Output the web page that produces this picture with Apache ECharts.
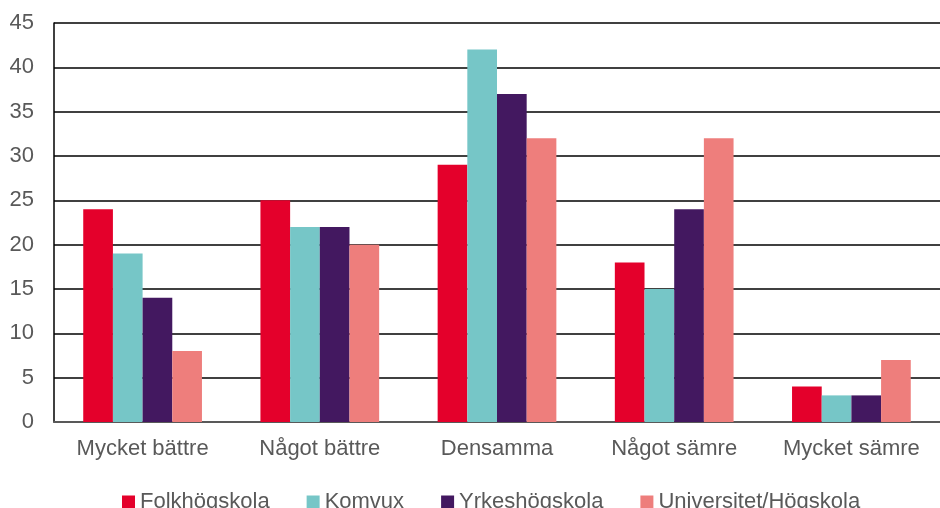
<!DOCTYPE html>
<html><head><meta charset="utf-8">
<script src="https://cdn.jsdelivr.net/npm/echarts@6/dist/echarts.min.js"></script>
<style>html,body{margin:0;padding:0;background:#fff}#c{width:940px;height:508px}</style>
</head><body><div id="c"></div>
<script>
const categories = ['Mycket bättre','Något bättre','Densamma','Något sämre','Mycket sämre'];
const seriesNames = ['Folkhögskola','Komvux','Yrkeshögskola','Universitet/Högskola'];
const folkhogskola = [24,25,29,18,4];
const komvux = [19,22,42,15,3];
const yrkeshogskola = [14,22,37,24,3];
const universitet = [8,20,32,32,7];
const colors = ['#E4002B','#76C6C7','#431860','#EE7E7C'];
const dataSets = [folkhogskola, komvux, yrkeshogskola, universitet];
const chart = echarts.init(document.getElementById('c'));
const font = 'Liberation Sans, Arial, sans-serif';
chart.setOption({
  animation:false,
  grid:{left:54,width:895,top:23,height:399},
  legend:{top:486,left:117,itemWidth:13,itemHeight:13,itemGap:37,icon:'rect',
    textStyle:{fontFamily:font,fontSize:22,color:'#595959'},data:seriesNames},
  xAxis:{type:'category',data:categories,
    axisLine:{lineStyle:{color:'#595959',width:2}},axisTick:{show:false},
    axisLabel:{fontFamily:font,fontSize:22,color:'#595959',margin:16,interval:0}},
  yAxis:{type:'value',min:0,max:45,interval:5,
    axisLine:{show:true,lineStyle:{color:'#000',width:1.5}},
    splitLine:{lineStyle:{color:'#000',width:1.5}},
    axisLabel:{fontFamily:font,fontSize:22,color:'#595959',margin:20}},
  series:dataSets.map((d,i)=>({name:seriesNames[i],type:'bar',data:d,barGap:'0%',barCategoryGap:'33%',
    itemStyle:{color:colors[i]}}))
});
</script></body></html>
